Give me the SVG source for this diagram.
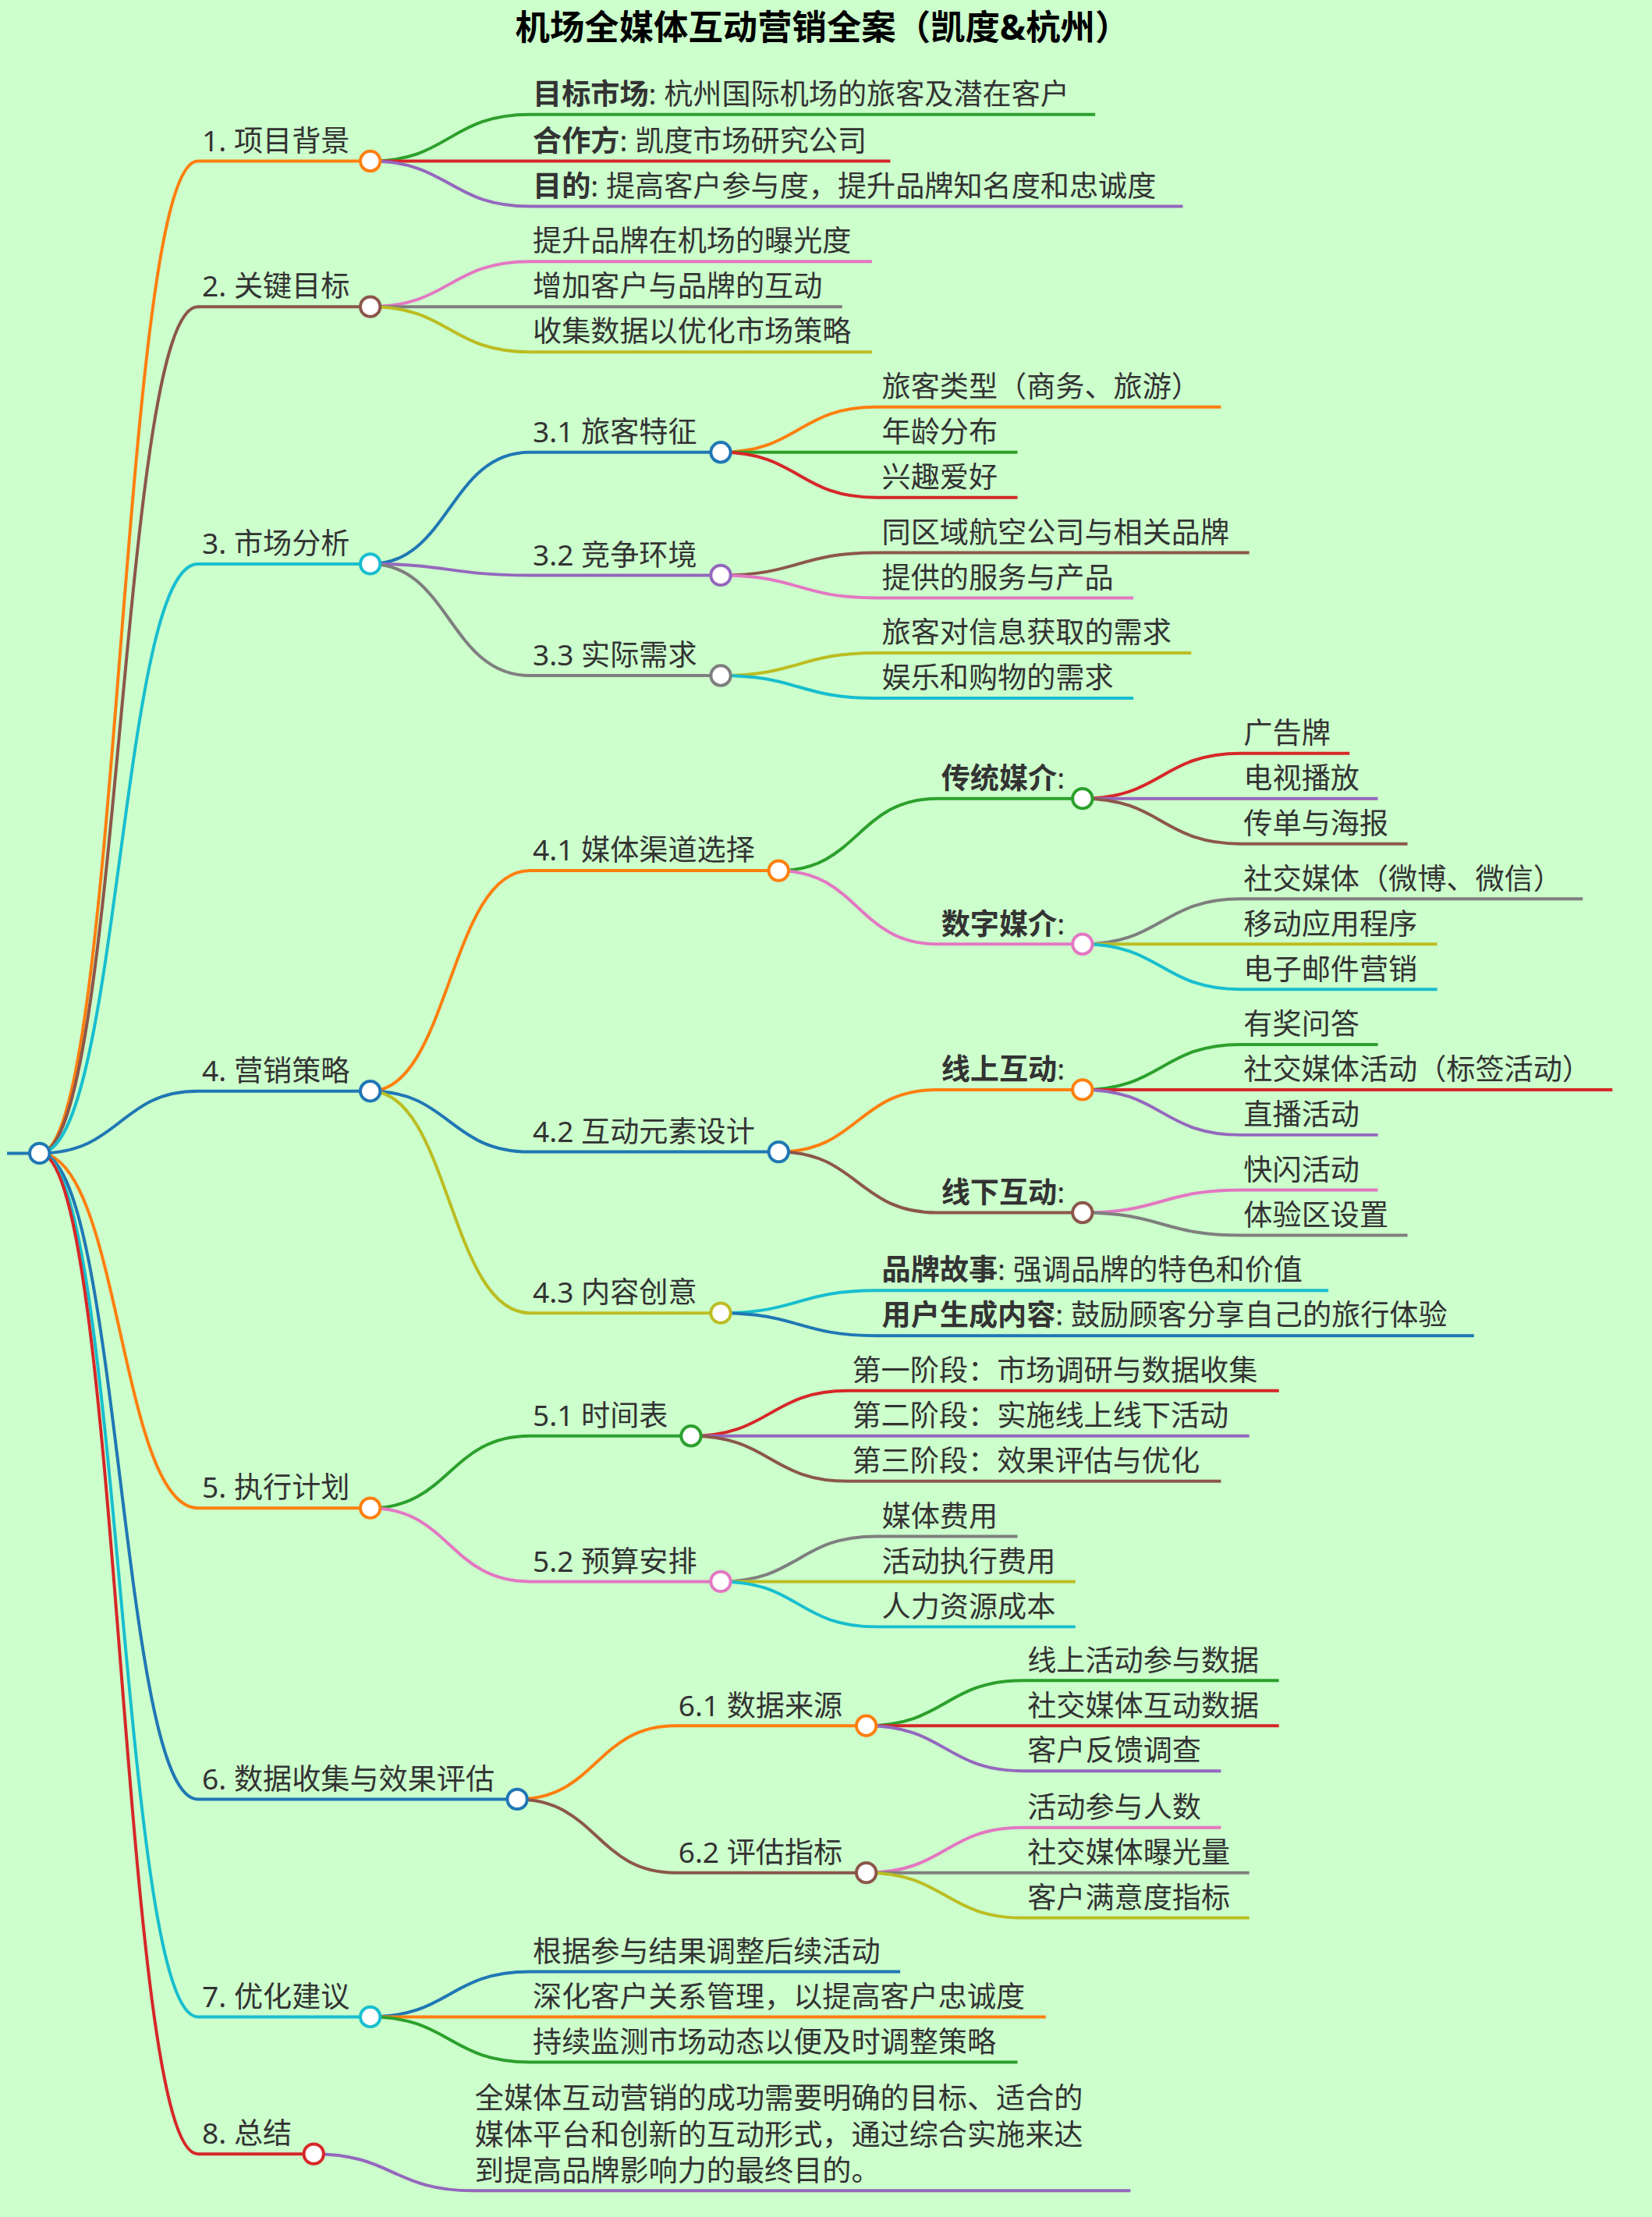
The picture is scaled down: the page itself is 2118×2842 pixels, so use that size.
<svg xmlns="http://www.w3.org/2000/svg" width="2118" height="2842" viewBox="0 0 2118 2842">
<style>
text{font-family:"Noto Sans","Noto Sans CJK SC",sans-serif;font-size:20.5px;fill:#333}
.t{font-size:24.5px;font-weight:bold;fill:#000}
b,.b{font-weight:bold}
path{fill:none;stroke-width:2.2}
circle{fill:#fff;stroke-width:2.2}
.c0{stroke:#1f77b4}.c1{stroke:#ff7f0e}.c2{stroke:#2ca02c}.c3{stroke:#d62728}.c4{stroke:#9467bd}.c5{stroke:#8c564b}.c6{stroke:#e377c2}.c7{stroke:#7f7f7f}.c8{stroke:#bcbd22}.c9{stroke:#17becf}
</style>
<rect width="2118" height="2842" fill="#ccffcc"/>
<g transform="scale(1.8118)">
<text class="t" x="582" y="28" text-anchor="middle">机场全媒体互动营销全案（凯度&amp;杭州）</text>
<g id="connectors">
<path class="c0" d="M5 816 L28 816"/>
<path class="c1" d="M28 816 C85 816 85 114 140 114 L262 114"/>
<path class="c5" d="M28 816 C85 816 85 217 140 217 L262 217"/>
<path class="c9" d="M28 816 C85 816 85 399 140 399 L262 399"/>
<path class="c0" d="M28 816 C85 816 85 772 140 772 L262 772"/>
<path class="c1" d="M28 816 C85 816 85 1067 140 1067 L262 1067"/>
<path class="c0" d="M28 816 C85 816 85 1273 140 1273 L366 1273"/>
<path class="c9" d="M28 816 C85 816 85 1427 140 1427 L262 1427"/>
<path class="c3" d="M28 816 C85 816 85 1524 140 1524 L222 1524"/>
<path class="c2" d="M262 114 C318 114 318 81 375 81 L775 81"/>
<path class="c3" d="M262 114 L630 114"/>
<path class="c4" d="M262 114 C318 114 318 146 375 146 L837 146"/>
<path class="c6" d="M262 217 C318 217 318 185 375 185 L617 185"/>
<path class="c7" d="M262 217 L596 217"/>
<path class="c8" d="M262 217 C318 217 318 249 375 249 L617 249"/>
<path class="c0" d="M262 399 C318 399 318 320 375 320 L510 320"/>
<path class="c4" d="M262 399 C318 399 318 407 375 407 L510 407"/>
<path class="c7" d="M262 399 C318 399 318 478 375 478 L510 478"/>
<path class="c1" d="M510 320 C565 320 565 288 620 288 L864 288"/>
<path class="c2" d="M510 320 L720 320"/>
<path class="c3" d="M510 320 C565 320 565 352 620 352 L720 352"/>
<path class="c5" d="M510 407 C565 407 565 391 620 391 L884 391"/>
<path class="c6" d="M510 407 C565 407 565 423 620 423 L802 423"/>
<path class="c8" d="M510 478 C565 478 565 462 620 462 L843 462"/>
<path class="c9" d="M510 478 C565 478 565 494 620 494 L802 494"/>
<path class="c1" d="M262 772 C318 772 318 616 375 616 L551 616"/>
<path class="c0" d="M262 772 C318 772 318 815 375 815 L551 815"/>
<path class="c8" d="M262 772 C318 772 318 929 375 929 L510 929"/>
<path class="c2" d="M551 616 C607 616 607 565 663 565 L766 565"/>
<path class="c6" d="M551 616 C607 616 607 668 663 668 L766 668"/>
<path class="c3" d="M766 565 C822 565 822 533 878 533 L955 533"/>
<path class="c4" d="M766 565 L975 565"/>
<path class="c5" d="M766 565 C822 565 822 597 878 597 L996 597"/>
<path class="c7" d="M766 668 C822 668 822 636 878 636 L1120 636"/>
<path class="c8" d="M766 668 L1017 668"/>
<path class="c9" d="M766 668 C822 668 822 700 878 700 L1017 700"/>
<path class="c1" d="M551 815 C607 815 607 771 663 771 L766 771"/>
<path class="c5" d="M551 815 C607 815 607 858 663 858 L766 858"/>
<path class="c2" d="M766 771 C822 771 822 739 878 739 L975 739"/>
<path class="c3" d="M766 771 L1141 771"/>
<path class="c4" d="M766 771 C822 771 822 803 878 803 L975 803"/>
<path class="c6" d="M766 858 C822 858 822 842 878 842 L975 842"/>
<path class="c7" d="M766 858 C822 858 822 874 878 874 L996 874"/>
<path class="c9" d="M510 929 C565 929 565 913 620 913 L940 913"/>
<path class="c0" d="M510 929 C565 929 565 945 620 945 L1043 945"/>
<path class="c2" d="M262 1067 C318 1067 318 1016 375 1016 L489 1016"/>
<path class="c6" d="M262 1067 C318 1067 318 1119 375 1119 L510 1119"/>
<path class="c3" d="M489 1016 C545 1016 545 984 600 984 L905 984"/>
<path class="c4" d="M489 1016 L884 1016"/>
<path class="c5" d="M489 1016 C545 1016 545 1048 600 1048 L864 1048"/>
<path class="c7" d="M510 1119 C565 1119 565 1087 620 1087 L720 1087"/>
<path class="c8" d="M510 1119 L761 1119"/>
<path class="c9" d="M510 1119 C565 1119 565 1151 620 1151 L761 1151"/>
<path class="c1" d="M366 1273 C422 1273 422 1221 478 1221 L613 1221"/>
<path class="c5" d="M366 1273 C422 1273 422 1325 478 1325 L613 1325"/>
<path class="c2" d="M613 1221 C669 1221 669 1189 724 1189 L905 1189"/>
<path class="c3" d="M613 1221 L905 1221"/>
<path class="c4" d="M613 1221 C669 1221 669 1253 724 1253 L864 1253"/>
<path class="c6" d="M613 1325 C669 1325 669 1293 724 1293 L864 1293"/>
<path class="c7" d="M613 1325 L884 1325"/>
<path class="c8" d="M613 1325 C669 1325 669 1357 724 1357 L884 1357"/>
<path class="c0" d="M262 1427 C318 1427 318 1395 375 1395 L637 1395"/>
<path class="c1" d="M262 1427 L740 1427"/>
<path class="c2" d="M262 1427 C318 1427 318 1459 375 1459 L720 1459"/>
<path class="c4" d="M222 1524 C278 1524 278 1550 335 1550 L800 1550"/>
</g>
<g id="root"><circle class="c0" cx="28" cy="816" r="7"/></g>
<g id="n1"><text x="143" y="107">1. 项目背景</text><circle class="c1" cx="262" cy="114" r="7"/></g>
<g id="n1a"><text x="377" y="74"><tspan class="b">目标市场</tspan>: 杭州国际机场的旅客及潜在客户</text></g>
<g id="n1b"><text x="377" y="107"><tspan class="b">合作方</tspan>: 凯度市场研究公司</text></g>
<g id="n1c"><text x="377" y="139"><tspan class="b">目的</tspan>: 提高客户参与度，提升品牌知名度和忠诚度</text></g>
<g id="n2"><text x="143" y="210">2. 关键目标</text><circle class="c5" cx="262" cy="217" r="7"/></g>
<g id="n2a"><text x="377" y="178">提升品牌在机场的曝光度</text></g>
<g id="n2b"><text x="377" y="210">增加客户与品牌的互动</text></g>
<g id="n2c"><text x="377" y="242">收集数据以优化市场策略</text></g>
<g id="n3"><text x="143" y="392">3. 市场分析</text><circle class="c9" cx="262" cy="399" r="7"/></g>
<g id="n31"><text x="377" y="313">3.1 旅客特征</text><circle class="c0" cx="510" cy="320" r="7"/></g>
<g id="n31a"><text x="624" y="281">旅客类型（商务、旅游）</text></g>
<g id="n31b"><text x="624" y="313">年龄分布</text></g>
<g id="n31c"><text x="624" y="345">兴趣爱好</text></g>
<g id="n32"><text x="377" y="400">3.2 竞争环境</text><circle class="c4" cx="510" cy="407" r="7"/></g>
<g id="n32a"><text x="624" y="384">同区域航空公司与相关品牌</text></g>
<g id="n32b"><text x="624" y="416">提供的服务与产品</text></g>
<g id="n33"><text x="377" y="471">3.3 实际需求</text><circle class="c7" cx="510" cy="478" r="7"/></g>
<g id="n33a"><text x="624" y="455">旅客对信息获取的需求</text></g>
<g id="n33b"><text x="624" y="487">娱乐和购物的需求</text></g>
<g id="n4"><text x="143" y="765">4. 营销策略</text><circle class="c0" cx="262" cy="772" r="7"/></g>
<g id="n41"><text x="377" y="609">4.1 媒体渠道选择</text><circle class="c1" cx="551" cy="616" r="7"/></g>
<g id="n411"><text x="666" y="558"><tspan class="b">传统媒介</tspan>:</text><circle class="c2" cx="766" cy="565" r="7"/></g>
<g id="n411a"><text x="880" y="526">广告牌</text></g>
<g id="n411b"><text x="880" y="558">电视播放</text></g>
<g id="n411c"><text x="880" y="590">传单与海报</text></g>
<g id="n412"><text x="666" y="661"><tspan class="b">数字媒介</tspan>:</text><circle class="c6" cx="766" cy="668" r="7"/></g>
<g id="n412a"><text x="880" y="629">社交媒体（微博、微信）</text></g>
<g id="n412b"><text x="880" y="661">移动应用程序</text></g>
<g id="n412c"><text x="880" y="693">电子邮件营销</text></g>
<g id="n42"><text x="377" y="808">4.2 互动元素设计</text><circle class="c0" cx="551" cy="815" r="7"/></g>
<g id="n421"><text x="666" y="764"><tspan class="b">线上互动</tspan>:</text><circle class="c1" cx="766" cy="771" r="7"/></g>
<g id="n421a"><text x="880" y="732">有奖问答</text></g>
<g id="n421b"><text x="880" y="764">社交媒体活动（标签活动）</text></g>
<g id="n421c"><text x="880" y="796">直播活动</text></g>
<g id="n422"><text x="666" y="851"><tspan class="b">线下互动</tspan>:</text><circle class="c5" cx="766" cy="858" r="7"/></g>
<g id="n422a"><text x="880" y="835">快闪活动</text></g>
<g id="n422b"><text x="880" y="867">体验区设置</text></g>
<g id="n43"><text x="377" y="922">4.3 内容创意</text><circle class="c8" cx="510" cy="929" r="7"/></g>
<g id="n43a"><text x="624" y="906"><tspan class="b">品牌故事</tspan>: 强调品牌的特色和价值</text></g>
<g id="n43b"><text x="624" y="938"><tspan class="b">用户生成内容</tspan>: 鼓励顾客分享自己的旅行体验</text></g>
<g id="n5"><text x="143" y="1060">5. 执行计划</text><circle class="c1" cx="262" cy="1067" r="7"/></g>
<g id="n51"><text x="377" y="1009">5.1 时间表</text><circle class="c2" cx="489" cy="1016" r="7"/></g>
<g id="n51a"><text x="603" y="977">第一阶段：市场调研与数据收集</text></g>
<g id="n51b"><text x="603" y="1009">第二阶段：实施线上线下活动</text></g>
<g id="n51c"><text x="603" y="1041">第三阶段：效果评估与优化</text></g>
<g id="n52"><text x="377" y="1112">5.2 预算安排</text><circle class="c6" cx="510" cy="1119" r="7"/></g>
<g id="n52a"><text x="624" y="1080">媒体费用</text></g>
<g id="n52b"><text x="624" y="1112">活动执行费用</text></g>
<g id="n52c"><text x="624" y="1144">人力资源成本</text></g>
<g id="n6"><text x="143" y="1266">6. 数据收集与效果评估</text><circle class="c0" cx="366" cy="1273" r="7"/></g>
<g id="n61"><text x="480" y="1214">6.1 数据来源</text><circle class="c1" cx="613" cy="1221" r="7"/></g>
<g id="n61a"><text x="727" y="1182">线上活动参与数据</text></g>
<g id="n61b"><text x="727" y="1214">社交媒体互动数据</text></g>
<g id="n61c"><text x="727" y="1246">客户反馈调查</text></g>
<g id="n62"><text x="480" y="1318">6.2 评估指标</text><circle class="c5" cx="613" cy="1325" r="7"/></g>
<g id="n62a"><text x="727" y="1286">活动参与人数</text></g>
<g id="n62b"><text x="727" y="1318">社交媒体曝光量</text></g>
<g id="n62c"><text x="727" y="1350">客户满意度指标</text></g>
<g id="n7"><text x="143" y="1420">7. 优化建议</text><circle class="c9" cx="262" cy="1427" r="7"/></g>
<g id="n7a"><text x="377" y="1388">根据参与结果调整后续活动</text></g>
<g id="n7b"><text x="377" y="1420">深化客户关系管理，以提高客户忠诚度</text></g>
<g id="n7c"><text x="377" y="1452">持续监测市场动态以便及时调整策略</text></g>
<g id="n8"><text x="143" y="1517">8. 总结</text><circle class="c3" cx="222" cy="1524" r="7"/></g>
<g id="n8a"><text x="336" y="1492">全媒体互动营销的成功需要明确的目标、适合的</text><text x="336" y="1518">媒体平台和创新的互动形式，通过综合实施来达</text><text x="336" y="1543">到提高品牌影响力的最终目的。</text></g>
</g>
</svg>
